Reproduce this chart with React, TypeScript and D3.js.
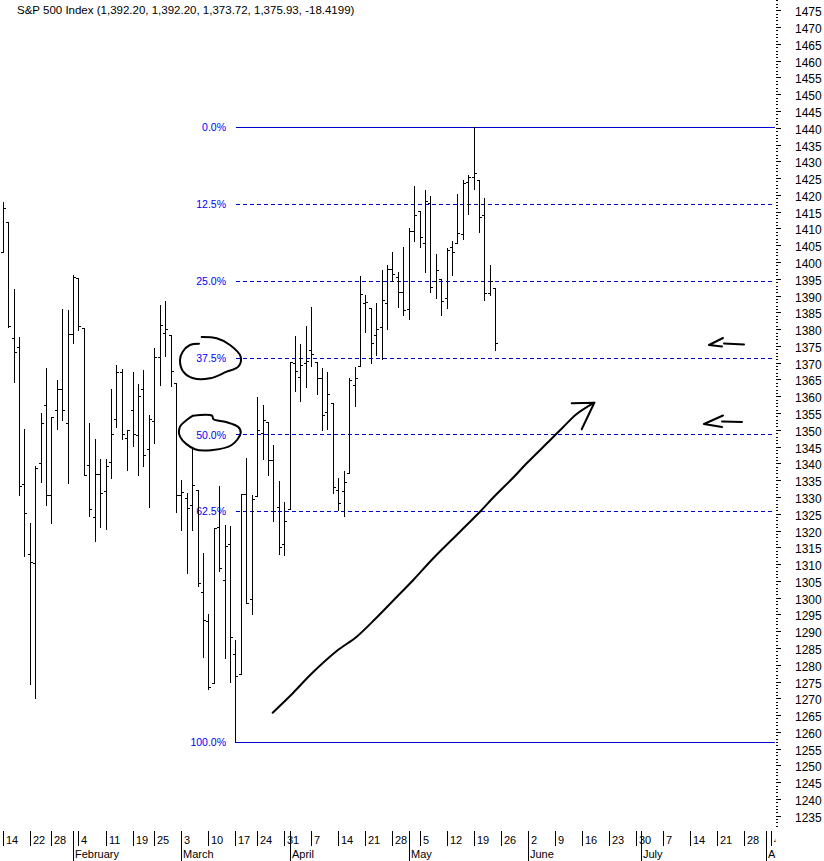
import React from "react";
import * as d3 from "d3";

// ---- Data (S&P 500 daily OHLC) ----
const START_DATE = "2008-01-14";
const HOLIDAYS = ["2008-01-21", "2008-02-18", "2008-03-21"];
const AXIS_END = "2008-08-08";

const OPEN = [
  1402.91, 1411.88, 1377.41, 1374.79, 1333.9, 1312.94, 1310.41, 1340.13, 1357.32,
  1330.7, 1355.94, 1362.22, 1351.98, 1378.6,
  1395.38, 1380.28, 1339.48, 1324.01, 1336.88, 1331.92, 1340.55, 1353.12, 1367.33, 1347.52,
  1355.86, 1348.39, 1362.21, 1344.22, 1352.75, 1371.76, 1378.95, 1378.16, 1364.07,
  1330.45, 1329.58, 1327.69, 1332.2, 1301.53, 1293.16, 1274.42, 1321.13, 1305.26, 1316.05,
  1283.21, 1277.16, 1330.97, 1299.67, 1330.29, 1349.07, 1352.45, 1341.13, 1327.02, 1315.92,
  1326.41, 1369.96, 1365.69, 1369.85, 1373.69, 1370.16, 1365.5, 1355.37, 1357.98,
  1332.2, 1331.72, 1337.02, 1363.37, 1369.0, 1387.72, 1386.43, 1378.4, 1380.52, 1387.88,
  1397.96, 1395.61, 1391.22,
  1385.97, 1409.16, 1415.34, 1405.6, 1417.49, 1394.29, 1394.9, 1389.4, 1404.4, 1405.65,
  1408.36, 1423.89, 1425.28, 1424.49, 1414.06, 1390.83, 1392.2,
];
const HIGH = [
  1417.89, 1411.88, 1391.99, 1377.72, 1350.28, 1322.09, 1339.09, 1355.15, 1368.56,
  1353.97, 1364.93, 1385.86, 1385.62, 1396.02,
  1395.38, 1380.28, 1351.96, 1347.16, 1341.22, 1341.4, 1362.1, 1369.23, 1368.16, 1350.0,
  1367.28, 1363.71, 1367.94, 1354.3, 1374.36, 1387.34, 1388.34, 1378.16, 1364.07,
  1335.13, 1331.03, 1344.19, 1332.2, 1313.24, 1295.01, 1320.65, 1333.26, 1321.68, 1321.47,
  1287.5, 1330.74, 1341.51, 1330.67, 1359.68, 1357.47, 1352.45, 1345.6, 1334.87, 1328.52,
  1370.18, 1377.95, 1375.66, 1380.91, 1386.74, 1370.16, 1368.39, 1367.24, 1357.98,
  1335.64, 1337.72, 1365.49, 1368.6, 1395.9, 1390.23, 1386.43, 1387.87, 1397.72, 1399.11,
  1402.9, 1397.0, 1404.57,
  1410.07, 1422.72, 1415.34, 1421.57, 1419.54, 1402.35, 1394.9, 1404.06, 1406.3, 1420.19,
  1424.4, 1425.82, 1440.24, 1424.49, 1419.12, 1399.07, 1392.2,
];
const LOW = [
  1402.91, 1380.6, 1364.27, 1330.67, 1312.51, 1274.29, 1270.05, 1334.31, 1327.5,
  1322.26, 1350.19, 1352.95, 1334.08, 1375.93,
  1379.69, 1336.64, 1324.34, 1316.75, 1321.06, 1320.32, 1335.55, 1350.78, 1347.31, 1338.13,
  1345.05, 1336.55, 1339.34, 1327.04, 1346.03, 1363.29, 1372.0, 1363.16, 1325.42,
  1320.04, 1307.39, 1320.22, 1303.42, 1282.43, 1272.66, 1274.42, 1307.86, 1282.11, 1274.86,
  1256.98, 1277.16, 1298.42, 1295.22, 1330.29, 1341.21, 1336.41, 1322.87, 1312.95, 1312.81,
  1326.41, 1361.55, 1358.68, 1362.83, 1369.02, 1360.62, 1349.97, 1350.11, 1331.21,
  1326.16, 1324.35, 1337.02, 1357.25, 1369.0, 1379.25, 1369.84, 1372.24, 1371.09, 1379.98,
  1394.4, 1386.7, 1384.25,
  1383.07, 1406.25, 1404.37, 1397.1, 1391.16, 1389.39, 1384.11, 1386.2, 1396.26, 1405.65,
  1406.87, 1414.35, 1421.63, 1409.09, 1388.81, 1390.23, 1373.72,
];
const CLOSE = [
  1416.25, 1380.95, 1373.2, 1333.25, 1325.19, 1310.5, 1338.6, 1352.07, 1330.61,
  1353.96, 1362.3, 1355.81, 1378.55, 1395.42,
  1380.82, 1336.64, 1326.45, 1336.91, 1331.29, 1339.13, 1348.86, 1367.21, 1348.86, 1349.99,
  1348.78, 1360.03, 1342.53, 1353.11, 1371.8, 1381.29, 1380.02, 1367.68, 1330.63,
  1331.34, 1326.75, 1333.7, 1304.34, 1293.37, 1273.37, 1320.65, 1308.77, 1315.48, 1288.14,
  1276.6, 1330.74, 1298.42, 1329.51, 1349.88, 1352.99, 1341.13, 1325.76, 1315.22, 1322.7,
  1370.18, 1367.53, 1369.31, 1370.4, 1372.54, 1365.54, 1354.49, 1360.55, 1332.83,
  1328.32, 1334.43, 1364.71, 1365.56, 1390.33, 1388.17, 1375.94, 1379.93, 1388.82, 1397.84,
  1396.37, 1390.94, 1385.59,
  1409.34, 1413.9, 1407.49, 1418.26, 1392.57, 1397.68, 1388.28, 1403.58, 1403.04, 1408.66,
  1423.57, 1425.35, 1426.63, 1413.4, 1390.71, 1394.35, 1375.93,
];

const TITLE = "S&P 500 Index (1,392.20, 1,392.20, 1,373.72, 1,375.93, -18.4199)";
const FIB_LEVELS = [0, 0.125, 0.25, 0.375, 0.5, 0.625, 1];
const MONTH_NAMES = ["January", "February", "March", "April", "May", "June", "July", "August", "September"];
const Y_TICK_MIN = 1230;
const Y_TICK_MAX = 1480;

// ---- Build axis dates ----
function buildDates() {
  const out: Date[] = [];
  const p = (s: string) => {
    const [a, b, c] = s.split("-").map(Number);
    return new Date(Date.UTC(a, b - 1, c));
  };
  const hol = new Set(HOLIDAYS);
  const end = p(AXIS_END);
  const d = p(START_DATE);
  let n = 0;
  while (d <= end) {
    const wd = d.getUTCDay();
    const iso = d.toISOString().slice(0, 10);
    const isTradingPeriod = n < OPEN.length;
    if (wd !== 0 && wd !== 6 && !(isTradingPeriod && hol.has(iso))) {
      out.push(new Date(d.getTime()));
      n++;
    }
    d.setUTCDate(d.getUTCDate() + 1);
  }
  return out;
}

export default function App() {
  const W = 824;
  const H = 861;
  const dates = buildDates();
  const nBars = OPEN.length;

  const x = d3.scaleLinear().domain([0, nBars - 1]).range([2.7, 495.3]);
  const hi = d3.max(HIGH) as number;
  const lo = d3.min(LOW) as number;
  const loIdx = LOW.indexOf(lo);
  const y = d3.scaleLinear().domain([hi, lo]).range([127, 742]);

  const plotRight = 775;
  const axisTop = 831;
  const fmtPct = d3.format(".1%");
  const font = "'Liberation Sans', Arial, sans-serif";

  const px = (v: number) => Math.round(v) + 0.5;

  // week / month boundaries
  const weekIdx = (dt: Date) => Math.floor((dt.getTime() / 86400000 + 3) / 7);
  const weekStarts: number[] = [];
  const monthStarts: number[] = [];
  dates.forEach((dt, i) => {
    if (i === 0 || weekIdx(dt) !== weekIdx(dates[i - 1])) weekStarts.push(i);
    if (i > 0 && dt.getUTCMonth() !== dates[i - 1].getUTCMonth()) monthStarts.push(i);
  });

  const yTicks = d3.range(Y_TICK_MIN, Y_TICK_MAX + 1).filter((v) => y(v) >= 0 && y(v) <= 828);

  const line = d3.line().curve(d3.curveCatmullRom.alpha(0.5));
  const ell375: [number, number][] = [
    [201.7, 337], [216.7, 338.3], [230, 345], [240.7, 356.7], [238.3, 366.7], [226.7, 371.7],
    [210, 378.3], [193.3, 378.3], [183.3, 371.7], [180, 360], [182.7, 351.7], [190, 345], [199, 343.7],
  ];
  const ell50: [number, number][] = [
    [193, 415.7], [212, 415.7], [213.5, 419.3], [226, 422], [238.3, 427], [240.7, 433],
    [231.7, 445], [213, 450], [195, 449.3], [180, 436.7], [180, 426.7], [186.7, 420], [193, 415.7],
  ];
  const bigArrow: [number, number][] = [
    [272.7, 712.7], [293.3, 692.7], [311.7, 673.5], [336.7, 651], [356.7, 636.7], [376.7, 617.5],
    [393.3, 600.5], [413.3, 580], [433.3, 558.3], [460, 531.7], [480, 511.7], [493.3, 497.5],
    [513.3, 477.5], [526.7, 463.3], [550, 440.3], [563.3, 427], [576.7, 414], [594.3, 402.7],
  ];

  return (
    <div style={{ position: "absolute", left: 0, top: 0 }}>
      <svg width={W} height={H} style={{ display: "block", background: "#fff" }}>
        <defs>
          <clipPath id="plot">
            <rect x={0} y={0} width={plotRight} height={830} />
          </clipPath>
          <clipPath id="xaxis">
            <rect x={0} y={828} width={775.5} height={40} />
          </clipPath>
        </defs>

        {/* title */}
        <text x={17} y={14} fontFamily={font} fontSize={11.5} fill="#000">
          {TITLE}
        </text>

        {/* fib lines */}
        <g clipPath="url(#plot)">
          {FIB_LEVELS.map((f) => {
            const v = hi - f * (hi - lo);
            const yy = px(y(v));
            const solid = f === 0 || f === 1;
            return (
              <line
                key={f}
                x1={px(x(loIdx))}
                x2={plotRight}
                y1={yy}
                y2={yy}
                stroke="#0000cc"
                strokeWidth={1}
                strokeDasharray={solid ? undefined : "4,3"}
                shapeRendering="crispEdges"
              />
            );
          })}
        </g>
        {FIB_LEVELS.map((f) => {
          const v = hi - f * (hi - lo);
          return (
            <text
              key={"l" + f}
              x={226}
              y={y(v) + 4}
              textAnchor="end"
              fontFamily={font}
              fontSize={10.5}
              fill="#0000ff"
            >
              {fmtPct(f)}
            </text>
          );
        })}

        {/* OHLC bars */}
        <g clipPath="url(#plot)" stroke="#000" strokeWidth={1} shapeRendering="crispEdges">
          {OPEN.map((o, i) => {
            const cx = Math.round(x(i));
            const yo = px(y(o));
            const yc = px(y(CLOSE[i]));
            return (
              <g key={i}>
                <line x1={cx + 0.5} x2={cx + 0.5} y1={Math.round(y(HIGH[i]))} y2={Math.round(y(LOW[i])) + 1} />
                <line x1={cx - 2} x2={cx} y1={yo} y2={yo} />
                <line x1={cx + 1} x2={cx + 3} y1={yc} y2={yc} />
              </g>
            );
          })}
        </g>

        {/* right axis */}
        <g stroke="#000" strokeWidth={1} shapeRendering="crispEdges">
          {yTicks.map((v) => {
            const yy = px(y(v));
            const major = v % 5 === 0;
            return <line key={v} x1={776} x2={major ? 781 : 778} y1={yy} y2={yy} />;
          })}
        </g>
        {yTicks
          .filter((v) => v % 5 === 0 && v >= 1235 && v <= 1475)
          .map((v) => (
            <text key={"t" + v} x={795} y={y(v) + 6} fontFamily={font} fontSize={12} fill="#000">
              {v}
            </text>
          ))}

        {/* bottom axis */}
        <g clipPath="url(#xaxis)">
          <g stroke="#000" strokeWidth={1} shapeRendering="crispEdges">
            {weekStarts.map((i) => (
              <line key={"w" + i} x1={px(x(i))} x2={px(x(i))} y1={axisTop} y2={846} />
            ))}
            {monthStarts.map((i) => (
              <line key={"m" + i} x1={px(x(i))} x2={px(x(i))} y1={axisTop} y2={861} />
            ))}
          </g>
          {weekStarts.map((i) => (
            <text key={"wt" + i} x={Math.round(x(i)) + 3} y={844} fontFamily={font} fontSize={11} fill="#000">
              {dates[i].getUTCDate()}
            </text>
          ))}
          {monthStarts.map((i) => (
            <text key={"mt" + i} x={Math.round(x(i)) + 2} y={858} fontFamily={font} fontSize={11} fill="#000">
              {MONTH_NAMES[dates[i].getUTCMonth()]}
            </text>
          ))}
        </g>

        {/* hand-drawn annotations */}
        <g fill="none" stroke="#000" strokeWidth={2} strokeLinecap="round" strokeLinejoin="round">
          <path d={line(ell375) || ""} />
          <path d={line(ell50) || ""} />
          <path d={line(bigArrow) || ""} />
          <path d="M571.7,403.3 L594.3,402.7 L581.7,429.3" />
          <path d="M744,344.5 L724,343.5 M723,338 L709,345 L722,346.5" />
          <path d="M742,422 L722,421.5 M723,415.5 L704,424 L722,427" />
        </g>
      </svg>
    </div>
  );
}
